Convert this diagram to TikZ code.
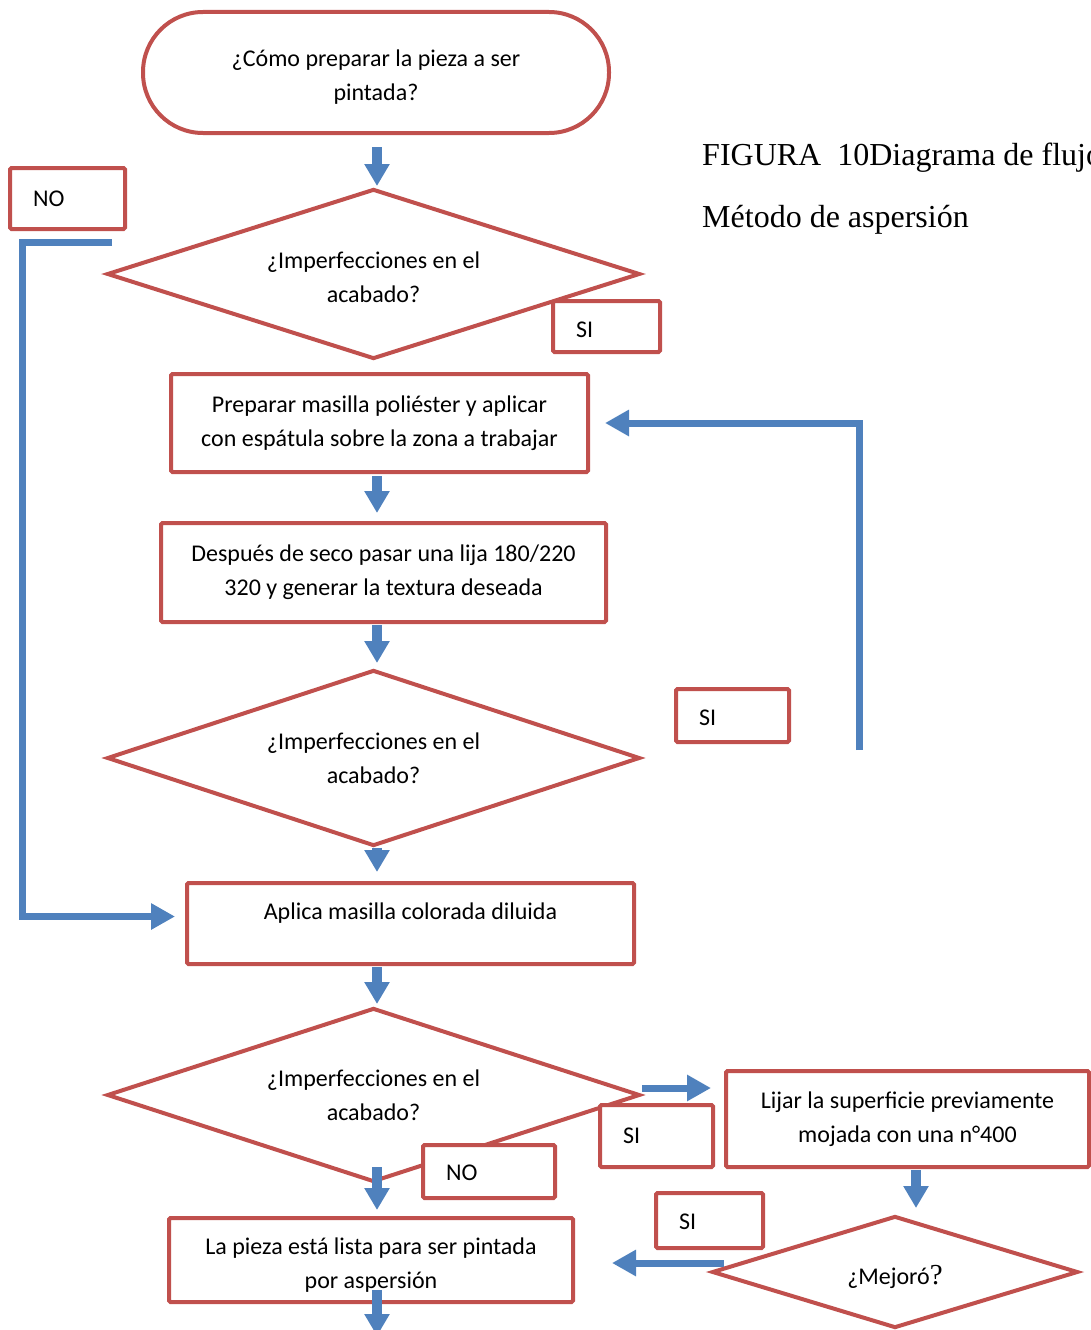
\documentclass[tikz,border=0pt]{standalone}
\usepackage{fontspec}
\setmainfont{Carlito}
\newfontfamily\capfont{Liberation Serif}
\usetikzlibrary{arrows.meta,shapes.geometric,calc}
\definecolor{boxred}{HTML}{C0504D}
\definecolor{arrblue}{HTML}{4F81BD}
\begin{document}
\begin{tikzpicture}[x=1pt,y=-1pt,
  every node/.style={font=\fontsize{24}{34}\selectfont},
  box/.style={draw=boxred, line width=4pt, fill=white, align=center, rounded corners=1.5pt, inner sep=0pt},
  dia/.style={draw=boxred, line width=4pt, fill=white, shape=diamond, align=center, inner sep=0pt},
  lbl/.style={box, align=left, inner xsep=23pt, inner ysep=0pt},
  blk/.style={draw=arrblue, line width=10pt, -{Triangle[width=24pt,length=22pt]}},
  conn/.style={draw=arrblue, line width=7pt, -{Triangle[width=25pt,length=24pt]}},
  capt/.style={anchor=base west, inner sep=0pt, font=\capfont\fontsize{32}{38}\selectfont}
]
\useasboundingbox (0,0) rectangle (1091,1330);

% main shapes
\node[box, minimum width=466pt, minimum height=121pt, rounded corners=60pt] (start) at (376,72.5) {\rule{0pt}{26pt}¿Cómo preparar la pieza a ser\\pintada?};
\node[dia, aspect=3.135, minimum width=533pt, minimum height=170pt] (d1) at (373.5,274) {\rule{0pt}{24pt}¿Imperfecciones en el\\acabado?};
\node[box, minimum width=417pt, minimum height=98pt] (r1) at (379.5,423) {Preparar masilla poliéster y aplicar\\con espátula sobre la zona a trabajar};
\node[box, minimum width=445pt, minimum height=99pt] (r2) at (383.5,572.5) {Después de seco pasar una lija 180/220\\320 y generar la textura deseada};
\node[dia, aspect=3.03, minimum width=533pt, minimum height=176pt] (d2) at (373.5,758) {¿Imperfecciones en el\\acabado?};
\node[box, minimum width=447pt, minimum height=81pt, text depth=24pt] (r3) at (410.5,923.5) {Aplica masilla colorada diluida};
\node[dia, aspect=3.06, minimum width=533pt, minimum height=174pt] (d3) at (373.5,1095) {¿Imperfecciones en el\\acabado?};
\node[box, minimum width=363pt, minimum height=96pt] (r4) at (907.5,1119) {Lijar la superficie previamente\\mojada con una n°400};
\node[dia, aspect=3.27, minimum width=366pt, minimum height=112pt, text height=25pt, text depth=0pt] (d4) at (895,1272) {¿Mejoró{\capfont\fontsize{29}{34}\selectfont ?}};
\node[box, minimum width=404pt, minimum height=84pt] (r5) at (371,1260) {\rule{0pt}{26pt}La pieza está lista para ser pintada\\por aspersión};

% label boxes
\node[lbl, text width=69pt, minimum height=61pt] (no1) at (67.5,198.5) {NO};
\node[lbl, text width=61pt, minimum height=51pt, text height=22pt, text depth=0pt] (si1) at (606.5,326.5) {SI};
\node[lbl, text width=67pt, minimum height=53pt, text height=20pt, text depth=0pt] (si2) at (732.5,715.5) {SI};
\node[lbl, text width=67pt, minimum height=62pt] (si3) at (656.5,1136) {SI};
\node[lbl, text width=86pt, minimum height=53pt, text height=18pt, text depth=0pt] (no2) at (489,1171.5) {NO};
\node[lbl, text width=61pt, minimum height=55pt, text height=18pt, text depth=0pt] (si4) at (709.5,1220.5) {SI};

% caption
\node[capt] (cap1) at (702,165) {FIGURA\ \ 10Diagrama de flujo};
\node[capt] (cap2) at (702,227) {Método de aspersión};

% helper coordinates
\coordinate (col) at (377,0);
\coordinate (loop) at (859,750);
\coordinate (tail) at (377,1336);

% vertical block arrows
\draw[blk, shorten <=12pt, shorten >=1pt] (col |- start.south) -- (col |- d1.north);
\draw[blk, shorten <=2pt, shorten >=8pt] (col |- r1.south) -- (col |- r2.north);
\draw[blk, shorten <=1pt, shorten >=5pt] (col |- r2.south) -- (col |- d2.north);
\draw[blk, shorten <=0pt, shorten >=9pt] (col |- d2.south) -- (col |- r3.north);
\draw[blk, shorten <=1pt, shorten >=2pt] (col |- r3.south) -- (col |- d3.north);
\draw[blk, shorten <=-17pt, shorten >=6pt] (col |- d3.south) -- (col |- r5.north);
\draw[blk, shorten <=-14pt] (col |- r5.south) -- (tail);
\draw[blk] ($(r4.south)+(8.5,1)$) -- ($(r4.south |- d4.north)+(8.5,-6)$);

% connectors
\draw[conn] ($(no1.south east)+(-15,11)$) -- ($(no1.west |- no1.south)+(14,11)$)
  -- ($(no1.west |- r3.west)+(14,-7)$) -- ($(r3.west)+(-10,-7)$);
\draw[conn] (loop) |- ($(r1.east)+(15,0)$);
\draw[conn] ($(d3.east)+(0,-7)$) -- ($(d3.east -| r4.west)+(-13,-7)$);
\draw[conn] ($(d4.west)+(14,-9)$) -- ($(d4.west -| r5.east)+(37,-9)$);
\end{tikzpicture}
\end{document}
